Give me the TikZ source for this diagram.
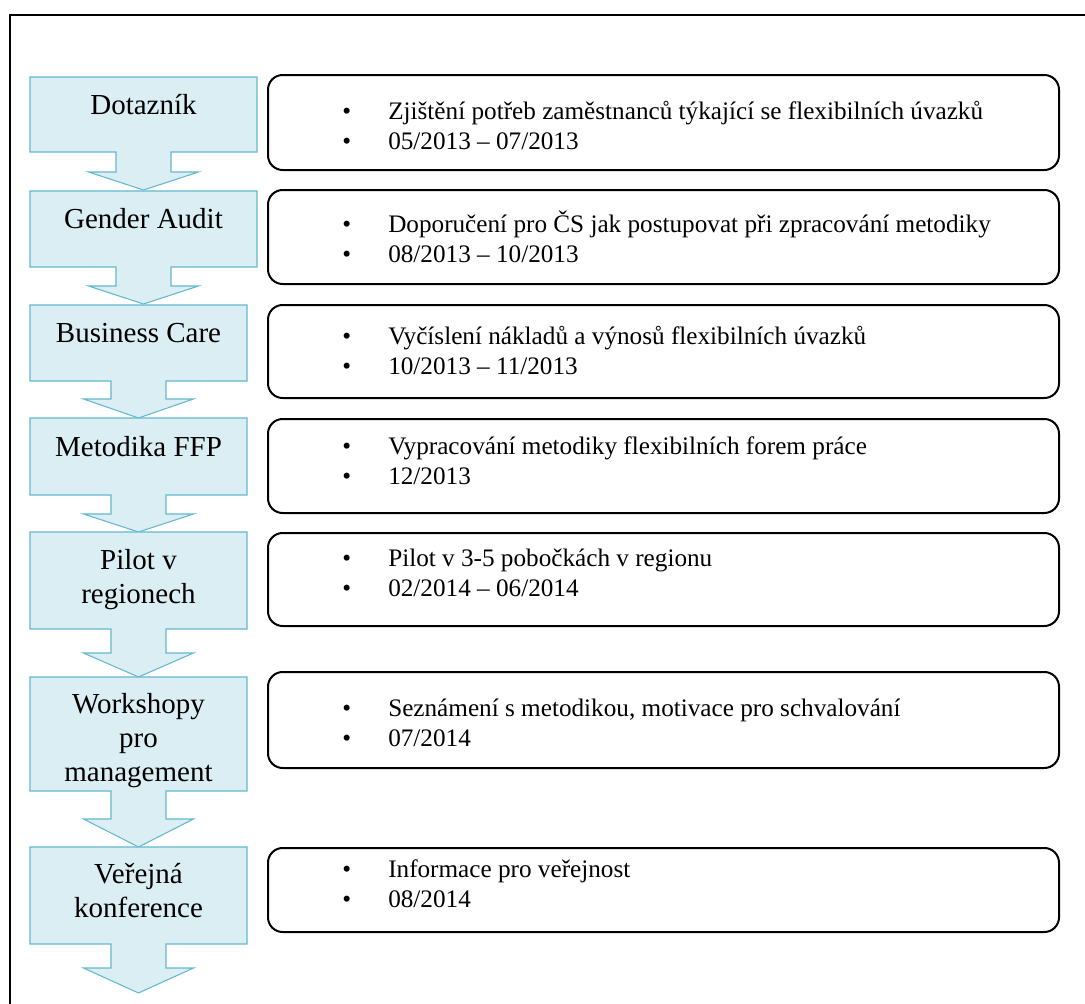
\documentclass[tikz,border=0pt]{standalone}
\usepackage{fontspec}
\setmainfont{Liberation Serif}
\usetikzlibrary{fit,positioning}
\definecolor{stagebg}{RGB}{218,238,243}
\definecolor{stageline}{RGB}{100,184,208}
\newcommand{\stagefont}{\fontsize{21.75}{25.5}\selectfont}
\newcommand{\infofont}{\fontsize{18.9}{22.5}\selectfont}
\newcommand{\bul}{\makebox[34.5pt][l]{\textbullet}}

\begin{document}
\begin{tikzpicture}[x=0.75pt,y=-0.75pt,
    stage/.style={fill=stagebg,draw=stageline,line width=0.8pt},
    stagelabel/.style={font=\stagefont,align=center,anchor=base,inner sep=0pt},
    infobox/.style={draw,line width=1.5pt,rounded corners=11pt,inner sep=0pt},
    infotext/.style={font=\infofont,align=left,anchor=west,inner sep=0pt}]
  \useasboundingbox (0,0) rectangle (1085,1003);
  \clip (0,0) rectangle (1085,1003);
  \draw[line width=1.5pt] (10,1010) -- (10,15) -- (1090,15);

  % stages with their down arrows
  \foreach \t/\b/\n/\p/\c in {77/152/172/190/143.5, 191/267/286/304/143.5,
      305/381/399/418/138.5, 418/495/514/532/138.5, 532/629/653/677/138.5,
      677/791/819/847/138.5, 847/944/968/993/138.5}
    \draw[stage] (30,\t) -- ({2*\c-30},\t) -- ({2*\c-30},\b) -- ({\c+27.5},\b)
      -- ({\c+27.5},\n) -- ({\c+55},\n) -- (\c,\p) -- ({\c-55},\n)
      -- ({\c-27.5},\n) -- ({\c-27.5},\b) -- (30,\b) -- cycle;

  % base of a multi-line label = its last line
  \node[stagelabel] (dotaznik) at (143.5,114) {Dotazník};
  \node[stagelabel] (audit) at (143.5,228) {Gender Audit};
  \node[stagelabel] (care) at (138.5,342) {Business Care};
  \node[stagelabel] (ffp) at (138.5,456) {Metodika FFP};
  \node[stagelabel] (pilot) at (138.5,603) {Pilot v\\regionech};
  \node[stagelabel] (workshop) at (138.5,781) {Workshopy\\pro\\management};
  \node[stagelabel] (konf) at (138.5,917) {Veřejná\\konference};

  % descriptions
  \node[infobox,fit={(268,75) (1059,170)}] (i1) {};
  \node[infobox,fit={(268,190) (1059,284)}] (i2) {};
  \node[infobox,fit={(268,305) (1059,398)}] (i3) {};
  \node[infobox,fit={(268,419) (1059,513)}] (i4) {};
  \node[infobox,fit={(268,533) (1059,626)}] (i5) {};
  \node[infobox,fit={(268,672) (1059,768)}] (i6) {};
  \node[infobox,fit={(268,848) (1059,932)}] (i7) {};

  \node[infotext] (t1) at (342,125) {\bul Zjištění potřeb zaměstnanců týkající se flexibilních úvazků\\\bul 05/2013 -- 07/2013};
  \node[infotext] (t2) at (342,237) {\bul Doporučení pro ČS jak postupovat při zpracování metodiky\\\bul 08/2013 -- 10/2013};
  \node[infotext] (t3) at (342,350) {\bul Vyčíslení nákladů a výnosů flexibilních úvazků\\\bul 10/2013 -- 11/2013};
  \node[infotext] (t4) at (342,461) {\bul Vypracování metodiky flexibilních forem práce\\\bul 12/2013};
  \node[infotext] (t5) at (342,573) {\bul Pilot v 3-5 pobočkách v regionu\\\bul 02/2014 -- 06/2014};
  \node[infotext] (t6) at (342,723) {\bul Seznámení s metodikou, motivace pro schvalování\\\bul 07/2014};
  \node[infotext] (t7) at (342,884) {\bul Informace pro veřejnost\\\bul 08/2014};
\end{tikzpicture}
\end{document}
